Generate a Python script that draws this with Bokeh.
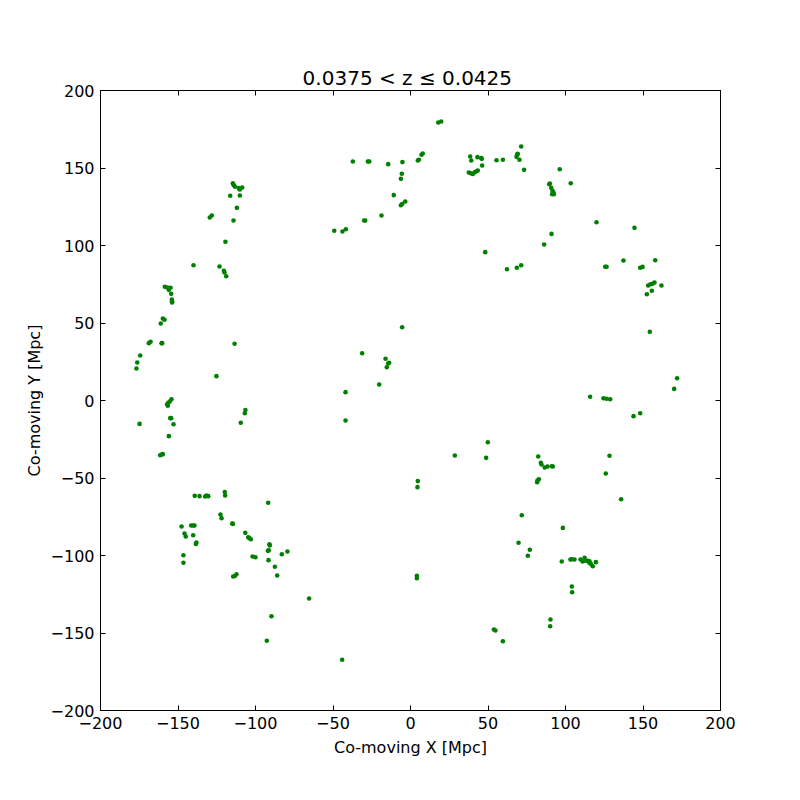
from bokeh.plotting import figure
from bokeh.models import LinearAxis, FixedTicker, Range1d
from bokeh.embed import file_html
from bokeh.resources import INLINE

title_text = "0.0375 < z  \u2264 0.0425"
x_label = "Co-moving X [Mpc]"
y_label = "Co-moving Y [Mpc]"
x_ticks = [-200, -150, -100, -50, 0, 50, 100, 150, 200]
y_ticks = [-200, -150, -100, -50, 0, 50, 100, 150, 200]

# galaxy positions (Mpc)
pts_upper_left = [(-114.6,140.2),(-114,138.9),(-113.3,138),(-110.8,137),(-110.1,136.1),(-108.6,137.4),
    (-116.3,132.1),(-110.1,132.3),(-112,124.3),(-129.5,118.1),(-128.2,119.4),(-114.2,116.1),
    (-119.4,102.4),(-140,87.3),(-123.2,86.5),(-120.4,83.7),(-120,82.6),(-118.9,80.2)]
pts_left_arc = [(-158.5,73.4),(-157,72.9),(-155.9,72.5),(-154.8,72.7),(-155.9,71.4),(-154.4,68.8),
    (-154,65.2),(-153.8,64.1),(-153.8,63.2),(-159.8,52.9),(-158.7,52.1),(-161.1,49.7),(-168.8,37),
    (-167.7,37.9),(-160.6,37),(-160.2,37),(-174.4,29),(-176.3,24.5),(-176.8,20.6),(-113.5,36.6),
    (-125.2,15.7),(-154.2,0.8),(-155.3,-0.6),(-156.3,-1.5),(-157,-2.4),(-156.6,-3.4),(-155,-11.4),
    (-154.4,-11.4),(-152.9,-15.3),(-174.8,-15.1),(-155.9,-23),(-161.5,-35.3),(-160.6,-34.8),
    (-159.8,-34.6),(-106.5,-6.2),(-106.9,-8.2),(-109.5,-14.4)]
pts_lower_left = [(-139.2,-61.5),(-136.1,-61.7),(-132.5,-61.9),(-131.6,-61.3),(-130.5,-61.7),
    (-119.8,-59.1),(-119.6,-61.3),(-91.8,-66),(-122.6,-73.5),(-121.9,-75.9),(-147.7,-81.3),
    (-141.5,-80.6),(-140.2,-80.6),(-139.4,-80.6),(-115,-79.4),(-114.6,-79.6),(-145.8,-85.8),
    (-145,-87.7),(-140.2,-86.9),(-138.1,-91.6),(-138.5,-92.5),(-106.6,-85.4),(-104.7,-88.2),
    (-103.9,-88.8),(-103,-89.5),(-101.9,-100.6),(-100,-101.1),(-91,-92.7),(-90.8,-93.5),(-92,-97),
    (-91.4,-96.6),(-91.6,-103),(-83,-99.2),(-79.4,-97.4),(-87.5,-107.3),(-86,-112.9),(-146.5,-99.8),
    (-146.5,-104.7),(-114.4,-113.5),(-113.3,-113.2),(-112.3,-112.1),(-65.4,-127.7),(-89.7,-139.2),
    (-92.7,-155),(-44.1,-167.3)]
pts_bottom = [(4.1,-113.1),(4.1,-114.6),(53.8,-147.7),(54.8,-148.4),(59.6,-155.3)]
pts_center = [(-5.4,47.3),(-31.2,30.5),(-16.1,26.9),(-13.8,24.3),(-14.4,23.9),(-15.3,21.5),
    (-20.2,10.3),(-41.9,5.4),(-41.9,-12.9),(49.9,-26.9),(28.6,-35.5),(48.8,-37),(4.7,-52),(4.5,-55.9)]
pts_right_mid = [(154.4,44.3),(172,14.4),(170.1,7.5),(115.9,2.4),(124.5,1.5),(126.5,1.1),(128.8,0.8),
    (148.2,-8.2),(143.9,-10.1),(128.4,-35.7),(126,-47.1),(82.4,-36.1),(84.1,-40.2),(84.5,-41.3),
    (86.6,-43.2),(88.4,-42.6),(91.2,-42.4),(91.8,-42.6),(81.7,-52.7),(81.9,-51.6),(82.8,-50.8),
    (135.9,-63.7)]
pts_lower_right = [(71.8,-74),(98.3,-82.2),(69.7,-91.8),(77,-96.3),(75.7,-100.2),(97.6,-103.9),
    (103.2,-102.6),(104.1,-102.4),(105.8,-102.6),(109.7,-102.6),(111,-103.9),(112.3,-101.5),
    (113.1,-103.4),(114.4,-103.4),(115.5,-103.7),(115.3,-104.7),(116.3,-105.4),(117.6,-106.9),
    (119.6,-104.3),(104.1,-120),(104.3,-123.7),(90.3,-141.3),(90.1,-145.6)]
pts_top_mid = [(17.9,179.4),(19.8,180),(-37.2,154.2),(-27.5,154.2),(-26.6,154.2),(-14.4,152.5),
    (-5.2,153.8),(-5.6,146.3),(-6.2,143),(4.7,154.8),(5.4,155.3),(7.1,158.5),(7.9,159.4),
    (-10.8,132.5),(-6.2,126),(-5.4,126.7),(-3.4,128.4),(-18.7,119.4),(-29.9,116.1),(-29.2,116.1),
    (-49.2,109.5),(-43.9,109),(-41.7,110.5),(38.5,157.4),(39.2,154.8),(43.2,157),(45.6,156.4),
    (46,155.9),(46.2,151.6),(37.6,147.1),(38.9,146.6),(40.2,146.2),(41.5,147.3),(42.6,147.9),
    (43.4,148.4),(55.5,155),(59.6,155.3),(48.2,95.7),(62.2,84.7)]
pts_upper_right = [(71.4,163.9),(68.8,158.7),(69.2,159.1),(68.4,157.2),(70.3,155.3),(73.3,148.8),
    (96.3,149.2),(89.9,140),(89.5,139.5),(90.8,137.2),(91.6,135.3),(91.4,133.1),(92.5,133.1),
    (92.1,134.4),(103.4,140.2),(120,115),(144.5,111.4),(91,107.5),(86.2,100.6),(68.6,85.6),
    (71.4,87.3),(125.6,86.3),(126.5,86.3),(137.4,90.3),(148.2,85.6),(149.7,86.2),(157.9,90.5),
    (153.3,74.2),(154.8,75),(156.1,75.3),(157.4,76.1),(161.9,74.2),(155.7,70.8),(152.5,68.6)]

groups = [pts_upper_left, pts_left_arc, pts_lower_left, pts_bottom, pts_center,
          pts_right_mid, pts_lower_right, pts_top_mid, pts_upper_right]
xs = [p[0] for g in groups for p in g]
ys = [p[1] for g in groups for p in g]

FONT = "DejaVu Sans"

p = figure(output_backend="svg", toolbar_location=None,
           x_range=Range1d(-200, 200), y_range=Range1d(-200, 200),
           frame_width=620, frame_height=620,
           min_border_left=100, min_border_top=90, min_border_right=72, min_border_bottom=82,
           background_fill_color="white", border_fill_color="white")
p.grid.visible = False
p.outline_line_color = "black"
p.outline_line_width = 1

p.title.text = title_text
p.title.align = "center"
p.title.text_font = FONT
p.title.text_font_size = "20px"
p.title.text_font_style = "normal"
p.title.text_color = "black"
p.title.standoff = 2

p.scatter(xs, ys, size=4.6, color="#008000", line_color=None)

def style_axis(ax, ticks, show_labels):
    ax.ticker = FixedTicker(ticks=ticks)
    ax.major_tick_in = 5
    ax.major_tick_out = 0
    ax.minor_tick_line_color = None
    ax.axis_line_color = "black"
    ax.major_tick_line_color = "black"
    ax.major_label_text_font = FONT
    ax.major_label_text_font_size = "16px"
    ax.major_label_text_color = "black"
    ax.major_label_standoff = 6
    ax.axis_label_text_font = FONT
    ax.axis_label_text_font_size = "16px"
    ax.axis_label_text_font_style = "normal"
    ax.axis_label_text_color = "black"
    if show_labels:
        ax.major_label_overrides = {t: str(t).replace("-", "\u2212") for t in ticks}
    else:
        ax.major_label_overrides = {t: "" for t in ticks}
        ax.major_label_standoff = 0

style_axis(p.xaxis[0], x_ticks, True)
style_axis(p.yaxis[0], y_ticks, True)
p.xaxis[0].axis_label = x_label
p.yaxis[0].axis_label = y_label
p.xaxis[0].axis_label_standoff = 6
p.yaxis[0].axis_label_standoff = 4

right = LinearAxis()
style_axis(right, y_ticks, False)
p.add_layout(right, "right")
top = LinearAxis()
style_axis(top, x_ticks, False)
p.add_layout(top, "above")

open("out.html", "w").write(file_html(p, INLINE))
